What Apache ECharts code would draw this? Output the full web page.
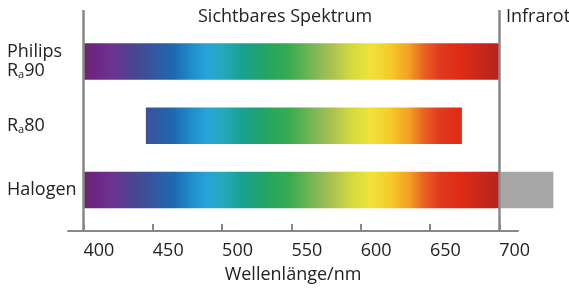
<!DOCTYPE html>
<html>
<head>
<meta charset="utf-8">
<script src="https://cdn.jsdelivr.net/npm/echarts@6/dist/echarts.min.js"></script>
<style>
  html, body { margin: 0; padding: 0; background: #fff; }
  #main { width: 569px; height: 289px; }
</style>
</head>
<body>
<div id="main"></div>
<script>
// categories bottom -> top
const categories = ['Halogen', 'Ra80', 'Philips Ra90']
const spectrumStart = [400, 445, 400]
const spectrumEnd = [700, 673, 700]
// infrared tail, only halogen has one
const infraredStart = [700, null, null]
const infraredEnd = [739, null, null]

const xTicks = [400, 450, 500, 550, 600, 650, 700]
const visibleBounds = [400, 700]

// spectrum colours along the wavelength
const specWl = [400, 407, 421, 436, 451, 465, 479, 490, 501, 515, 530, 549, 563, 578, 592, 607, 621, 635, 645, 657, 672, 686, 700]
const specColors = ['#6b2a6e', '#6e2580', '#6a3590', '#4a4590', '#3258a0', '#1a6ab2', '#2090cc', '#28a5d8', '#25a8b8',
  '#18a090', '#20a565', '#3aaa50', '#70b558', '#a5c050', '#d0d840', '#f0e23a', '#f5cc28', '#f2a020', '#eb6424',
  '#e03a22', '#e02a14', '#c82818', '#b82020']

const FONT = '"Open Sans", sans-serif'
const TXT = '#222'
const AX = '#888'

var myChart = echarts.init(document.getElementById('main'))

const labelMap = {
  'Halogen': '{t|Halogen}',
  'Ra80': '{t|R}{s|a}{t|80}',
  'Philips Ra90': '{t|Philips}\n{t|R}{s|a}{t|90}'
}

const barData = categories.map((c, i) => [i, spectrumStart[i], spectrumEnd[i], infraredStart[i], infraredEnd[i]])

const option = {
  animation: false,
  textStyle: { fontFamily: FONT },
  grid: [
    { left: 68, right: 51, top: 10, bottom: 51.5 },
    { left: 68, right: 51, top: 29.4, height: 192.75 }
  ],
  xAxis: [
    {
      gridIndex: 0,
      type: 'value',
      min: 388.8,
      max: 713.5,
      axisLine: { show: true, lineStyle: { color: AX, width: 2 } },
      axisTick: { show: true, inside: true, length: 7, lineStyle: { color: AX, width: 2 }, customValues: xTicks },
      axisLabel: { customValues: xTicks, align: 'left', margin: 11, fontSize: 18, color: TXT, fontFamily: FONT },
      splitLine: { show: false },
      name: 'Wellenlänge/nm',
      nameLocation: 'middle',
      nameGap: 35,
      nameTextStyle: { fontSize: 18, color: TXT, fontFamily: FONT }
    },
    {
      gridIndex: 1,
      type: 'value',
      min: 388.8,
      max: 713.5,
      show: false
    }
  ],
  yAxis: [
    { gridIndex: 0, type: 'value', min: 0, max: 1, show: false },
    {
      gridIndex: 1,
      type: 'category',
      data: categories,
      axisLine: { show: false },
      axisTick: { show: false },
      axisLabel: {
        align: 'left',
        margin: 61,
        formatter: v => labelMap[v],
        rich: {
          t: { fontSize: 18, lineHeight: 19, color: TXT, fontFamily: FONT },
          s: { fontSize: 11, lineHeight: 1, verticalAlign: 'bottom', color: TXT, fontFamily: FONT }
        }
      }
    }
  ],
  graphic: [
    { type: 'text', left: 198, top: 8, style: { text: 'Sichtbares Spektrum', fontSize: 18, fill: TXT, fontFamily: FONT } },
    { type: 'text', left: 506, top: 8, style: { text: 'Infrarot', fontSize: 18, fill: TXT, fontFamily: FONT } }
  ],
  series: [
    {
      type: 'line',
      xAxisIndex: 0,
      yAxisIndex: 0,
      data: [],
      silent: true,
      markLine: {
        silent: true,
        symbol: 'none',
        label: { show: false },
        lineStyle: { color: AX, width: 2.5, type: 'solid' },
        data: visibleBounds.map(v => ({ xAxis: v }))
      }
    },
    {
      type: 'custom',
      xAxisIndex: 1,
      yAxisIndex: 1,
      clip: false,
      silent: true,
      data: barData,
      renderItem: function (params, api) {
        const cat = api.value(0)
        const p0 = api.coord([api.value(1), cat])
        const p1 = api.coord([api.value(2), cat])
        const h = 36.5
        const gx0 = api.coord([specWl[0], cat])[0]
        const gx1 = api.coord([specWl[specWl.length - 1], cat])[0]
        const stops = specWl.map((w, k) => ({ offset: (w - specWl[0]) / (specWl[specWl.length - 1] - specWl[0]), color: specColors[k] }))
        const children = [{
          type: 'rect',
          shape: { x: p0[0], y: p0[1] - h / 2, width: p1[0] - p0[0], height: h },
          style: { fill: new echarts.graphic.LinearGradient(gx0, 0, gx1, 0, stops, true) }
        }]
        const irS = api.value(3)
        const irE = api.value(4)
        if (irS != null && !isNaN(irS) && irE != null && !isNaN(irE)) {
          const q0 = api.coord([irS, cat])
          const q1 = api.coord([irE, cat])
          children.push({
            type: 'rect',
            shape: { x: q0[0] + 1, y: q0[1] - h / 2, width: q1[0] - q0[0] - 1, height: h },
            style: { fill: '#a6a6a6' }
          })
        }
        return { type: 'group', children: children }
      }
    }
  ]
}

myChart.setOption(option)
</script>
</body>
</html>
